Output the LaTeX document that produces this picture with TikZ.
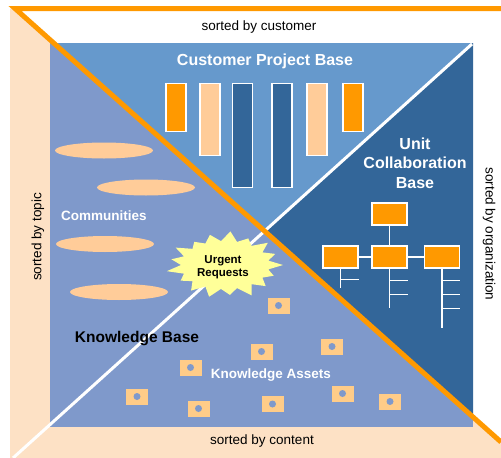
\documentclass[tikz,border=0pt]{standalone}
\usepackage{fontspec}
\setmainfont{Liberation Sans}

\definecolor{framepeach}{HTML}{FDE1C5}
\definecolor{kbblue}{HTML}{7F99CB}
\definecolor{cpblue}{HTML}{6699CC}
\definecolor{ucblue}{HTML}{336699}
\definecolor{barorange}{HTML}{FF9900}
\definecolor{lightpeach}{HTML}{FFCC99}
\definecolor{assetpeach}{HTML}{FFCC88}
\definecolor{burstyellow}{HTML}{FFFF99}

\begin{document}
\begin{tikzpicture}[x=1pt,y=-1pt,
    heading/.style={text=white,font=\fontsize{16}{19.5}\selectfont\bfseries,align=center},
    sortnote/.style={font=\fontsize{13.5}{16}\selectfont},
    projbar/.style={draw=white,line width=1.2pt,minimum width=20pt,inner sep=0pt,anchor=north},
    orgbox/.style={draw=white,fill=barorange,line width=1.2pt,minimum width=35pt,minimum height=22pt,inner sep=0pt},
    orgline/.style={white,line width=1.7pt}]
    \useasboundingbox (0,0) rectangle (501,458);

    % Rahmen
    \fill[framepeach] (10,8.5) -- (15,8.5) -- (501,442) -- (501,458) -- (10,458) -- cycle;

    % Bereiche
    \coordinate (oa) at (15,8.5);
    \coordinate (ob) at (501,442);
    \coordinate (wa) at (13,458);
    \coordinate (wb) at (472,44);
    \coordinate (c) at (intersection of oa--ob and wa--wb);
    \fill[kbblue] (50,43) rectangle (473,427);
    \fill[cpblue] (50,43) -- (473,43) -- (c) -- cycle;
    \fill[ucblue] (473,43) -- (473,418) -- (c) -- cycle;

    % Trennlinien
    \draw[white,line width=3pt] (wa) -- (wb);
    \draw[barorange,line width=5pt] (501,8.5) -- (oa) -- (ob);

    % Sortierung
    \node[sortnote] (bycustomer) at (259,27) {sorted by customer};
    \node[sortnote] (bycontent) at (262,441) {sorted by content};
    \node[sortnote,rotate=90] (bytopic) at (38,237) {sorted by topic};
    \node[sortnote,rotate=-90] (byorg) at (489,234) {sorted by organization};

    % Customer Project Base
    \node[heading] (cpb) at (265,61) {Customer Project Base};
    \node[projbar,fill=barorange,minimum height=48pt] (p1) at (176,83) {};
    \node[projbar,fill=lightpeach,minimum height=72pt] (p2) at (210,83) {};
    \node[projbar,fill=ucblue,minimum height=104pt] (p3) at (242.5,83) {};
    \node[projbar,fill=ucblue,minimum height=104pt] (p4) at (282,83) {};
    \node[projbar,fill=lightpeach,minimum height=72pt] (p5) at (317,83) {};
    \node[projbar,fill=barorange,minimum height=48pt] (p6) at (353,83) {};

    % Unit Collaboration Base
    \node[heading] (ucb) at (415,163) {Unit\\Collaboration\\Base};
    \node[orgbox] (otop) at (389.5,214) {};
    \node[orgbox] (oleft) at (340.5,257) {};
    \node[orgbox] (omid) at (389.5,257) {};
    \node[orgbox] (oright) at (442,257) {};
    \draw[orgline] (otop) -- (omid);
    \draw[orgline] (oleft) -- (omid);
    \draw[orgline] (omid) -- (oright);
    \draw[orgline] (oleft.south) -- ++(0,19);
    \draw[orgline] (oleft.south) ++(0,11) -- ++(18,0);
    \draw[orgline] (omid.south) -- ++(0,39);
    \foreach \d in {12,26}
        \draw[orgline] (omid.south) ++(0,\d) -- ++(18,0);
    \draw[orgline] (oright.south) -- ++(0,59);
    \foreach \d in {12,26,40}
        \draw[orgline] (oright.south) ++(0,\d) -- ++(18,0);

    % Communities
    \foreach \x/\y in {104/150.5,146/187.5,105/244,119/292}
        \fill[lightpeach] (\x,\y) ellipse (49pt and 8pt);
    \node[heading,font=\fontsize{13.5}{16}\selectfont\bfseries] (com) at (104,216) {Communities};

    % Knowledge Base
    \node[font=\fontsize{15.5}{18}\selectfont\bfseries] (kb) at (137,339) {Knowledge Base};
    \foreach \x/\y in {278.5/305.5,332/346.5,261.5/351.5,190.5/367.5,137/396.5,
                       198.5/408.5,272.5/404,342.5/393.5,390/401.5} {
        \fill[assetpeach] (\x-11,\y-8) rectangle ++(22,16);
        \fill[kbblue] (\x,\y) circle (3.5pt);
    }
    \node[heading,font=\fontsize{13.5}{16}\selectfont\bfseries] (ka) at (271,375) {Knowledge Assets};

    % Urgent Requests
    \begin{scope}[shift={(225,265)}]
        \fill[burstyellow] (0:58pt and 33pt)
            \foreach \k/\f [evaluate=\f as \ra using 58*\f,evaluate=\f as \rb using 33*\f]
                in {1/0.93,2/1.0,3/0.9,4/1.02,5/0.95,6/0.88,7/1.0,8/0.94,9/1.02,
                    10/0.9,11/0.97,12/1.0,13/0.91,14/1.03,15/0.95,16/0.9,17/1.0}
                { -- (\k*21.176-10.588:44pt and 24pt) -- (\k*21.176:\ra pt and \rb pt) }
            -- cycle;
    \end{scope}
    \node[align=center,font=\fontsize{11.5}{13}\selectfont\bfseries] (urgent) at (223,267) {Urgent\\Requests};
\end{tikzpicture}
\end{document}
